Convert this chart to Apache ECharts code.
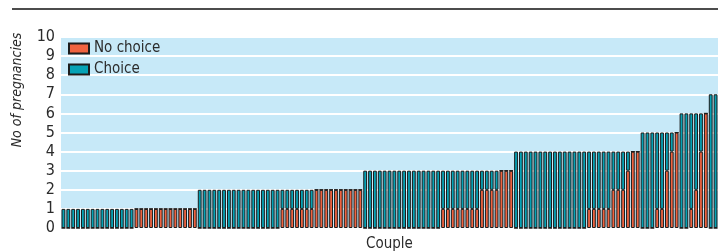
<!DOCTYPE html>
<html>
<head>
<meta charset="utf-8">
<script src="https://cdn.jsdelivr.net/npm/echarts@6/dist/echarts.min.js"></script>
<style>
  html, body { margin: 0; padding: 0; background: #fff; }
  #chart { width: 718px; height: 251px; }
</style>
</head>
<body>
<div id="chart"></div>
<script>
// one entry per couple left to right
var noChoice = [
  0,0,0,0,0,0,0,0,0,0,0,0,0,0,0,
  1,1,1,1,1,1,1,1,1,1,1,1,1,
  0,0,0,0,0,0,0,0,0,0,0,0,0,0,0,0,0,
  1,1,1,1,1,1,1,
  2,2,2,2,2,2,2,2,2,2,
  0,0,0,0,0,0,0,0,0,0,0,0,0,0,0,0,
  1,1,1,1,1,1,1,1,
  2,2,2,2,
  3,3,3,
  0,0,0,0,0,0,0,0,0,0,0,0,0,0,0,
  1,1,1,1,1,
  2,2,2,
  3,
  4,4,
  0,0,0,
  1,1,
  3,4,5,
  0,0,
  1,2,4,6,
  0,0
]
var choice = [
  1,1,1,1,1,1,1,1,1,1,1,1,1,1,1,
  0,0,0,0,0,0,0,0,0,0,0,0,0,
  2,2,2,2,2,2,2,2,2,2,2,2,2,2,2,2,2,
  1,1,1,1,1,1,1,
  0,0,0,0,0,0,0,0,0,0,
  3,3,3,3,3,3,3,3,3,3,3,3,3,3,3,3,
  2,2,2,2,2,2,2,2,
  1,1,1,1,
  0,0,0,
  4,4,4,4,4,4,4,4,4,4,4,4,4,4,4,
  3,3,3,3,3,
  2,2,2,
  1,
  0,0,
  5,5,5,
  4,4,
  2,1,0,
  6,6,
  5,4,2,0,
  7,7
]
var couples = noChoice.map(function (v, i) { return String(i + 1) })
var yTicks = [0, 1, 2, 3, 4, 5, 6, 7, 8, 9, 10]

var font = "'Liberation Sans Narrow', 'DejaVu Sans Condensed', 'Liberation Sans', sans-serif"

var chart = echarts.init(document.getElementById('chart'), null, { renderer: 'canvas' })

var option = {
  animation: false,
  color: ['#ef6340', '#06a2b5'],
  textStyle: { fontFamily: font },
  grid: {
    left: 61,
    right: 0,
    top: 37,
    bottom: 23,
    outerBoundsMode: 'none',
    containLabel: false,
    show: true,
    backgroundColor: '#c7e9f8',
    borderWidth: 0
  },
  legend: {
    data: ['No choice', 'Choice'],
    orient: 'vertical',
    left: 68,
    top: 41,
    padding: 0,
    itemWidth: 20,
    itemHeight: 10,
    itemGap: 6,
    icon: 'rect',
    textStyle: { fontFamily: font, fontSize: 15, color: '#2b2b2b' }
  },
  xAxis: {
    type: 'category',
    data: couples,
    name: 'Couple',
    nameLocation: 'middle',
    nameGap: 9,
    nameTextStyle: { fontFamily: font, fontSize: 15, color: '#2b2b2b' },
    axisLine: { show: false },
    axisTick: { show: false },
    axisLabel: { show: false }
  },
  yAxis: {
    type: 'value',
    min: yTicks[0],
    max: yTicks[yTicks.length - 1],
    interval: 1,
    axisLine: { show: false },
    axisTick: { show: false },
    axisLabel: {
      margin: 6,
      fontFamily: font,
      fontSize: 16,
      color: '#2b2b2b'
    },
    splitLine: { lineStyle: { color: '#ffffff', width: 2 } }
  },
  graphic: [
    {
      type: 'line',
      shape: { x1: 12, y1: 9, x2: 718, y2: 9 },
      style: { stroke: '#111', lineWidth: 1.5 }
    },
    {
      type: 'text',
      x: 17,
      y: 90,
      rotation: Math.PI / 2,
      style: {
        text: 'No of pregnancies',
        fontFamily: font,
        fontStyle: 'italic',
        fontSize: 14,
        fill: '#2b2b2b',
        align: 'center',
        verticalAlign: 'middle'
      }
    }
  ],
  series: [
    {
      name: 'No choice',
      type: 'bar',
      stack: 'total',
      barCategoryGap: '22%',
      data: noChoice,
      itemStyle: { borderColor: '#1c1c1c', borderWidth: 1 }
    },
    {
      name: 'Choice',
      type: 'bar',
      stack: 'total',
      barCategoryGap: '22%',
      data: choice,
      itemStyle: { borderColor: '#1c1c1c', borderWidth: 1 }
    }
  ]
}

chart.setOption(option)
</script>
</body>
</html>
